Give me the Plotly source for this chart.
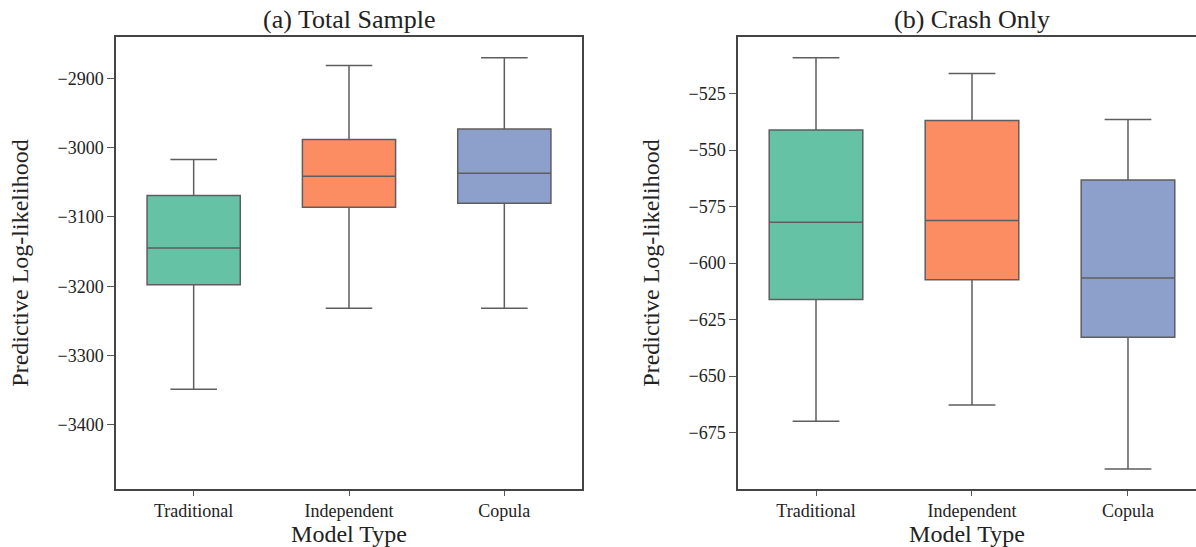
import plotly.graph_objects as go

categories = ["Traditional", "Independent", "Copula"]
colors = ["#66c2a5", "#fc8d62", "#8da0cb"]

# (a) Total Sample
a_lower = [-3349, -3232, -3232]
a_q1 = [-3198, -3086, -3080]
a_median = [-3145, -3041, -3037]
a_q3 = [-3069, -2988, -2973]
a_upper = [-3017, -2881, -2870]

# (b) Crash Only
b_lower = [-670.0, -662.8, -691.1]
b_q1 = [-616.2, -607.4, -632.9]
b_median = [-582.0, -581.2, -606.6]
b_q3 = [-541.1, -536.9, -563.3]
b_upper = [-509.2, -516.1, -536.5]

a_ticks = [-3400, -3300, -3200, -3100, -3000, -2900]
b_ticks = [-675, -650, -625, -600, -575, -550, -525]

W, H = 1196, 547
FONT = "Liberation Serif, Times New Roman, serif"
LINE = "#5e5e5e"
TXT = "#222222"

fig = go.Figure()

def add_boxes(lower, q1, med, q3, upper, xa, ya):
    for i, cat in enumerate(categories):
        fig.add_trace(go.Box(
            x=[cat], lowerfence=[lower[i]], q1=[q1[i]], median=[med[i]],
            q3=[q3[i]], upperfence=[upper[i]],
            fillcolor=colors[i], line=dict(color=LINE, width=1.5),
            width=0.6, whiskerwidth=0.5, boxpoints=False,
            showlegend=False, xaxis=xa, yaxis=ya, hoverinfo="skip",
        ))

add_boxes(a_lower, a_q1, a_median, a_q3, a_upper, "x", "y")
add_boxes(b_lower, b_q1, b_median, b_q3, b_upper, "x2", "y2")

ybot = 1 - 489 / H
ytop = 1 - 37 / H

axis_common = dict(
    showline=True, linecolor="#444444", linewidth=1.5,
    ticks="outside", ticklen=7, tickwidth=1.2, tickcolor="#555555",
    showgrid=False, zeroline=False,
    tickfont=dict(family=FONT, size=18, color=TXT),
)

x_extra = dict(tickfont=dict(family=FONT, size=18, color=TXT), ticklen=5)

fig.update_layout(
    width=W, height=H,
    margin=dict(l=0, r=0, t=0, b=0),
    paper_bgcolor="white", plot_bgcolor="white",
    font=dict(family=FONT, color=TXT),
    boxmode="overlay",
    xaxis=dict(domain=[116 / W, 582 / W], anchor="y", type="category",
               categoryorder="array", categoryarray=categories,
               range=[-0.5, 2.5], mirror=True,
               title=dict(text="Model Type", font=dict(family=FONT, size=24, color=TXT), standoff=0),
               **{**axis_common, **x_extra}),
    yaxis=dict(domain=[ybot, ytop], anchor="x", range=[-3493, -2840],
               tickvals=a_ticks, mirror=True,
               title=dict(text="Predictive Log-likelihood", font=dict(family=FONT, size=24, color=TXT), standoff=22),
               **axis_common),
    xaxis2=dict(domain=[738 / W, 1.0], anchor="y2", type="category",
                categoryorder="array", categoryarray=categories,
                range=[-0.5, 2.436], mirror=True,
                title=dict(text="Model Type", font=dict(family=FONT, size=24, color=TXT), standoff=0),
                **{**axis_common, **x_extra}),
    yaxis2=dict(domain=[ybot, ytop], anchor="x2", range=[-700, -500],
                tickvals=b_ticks, mirror=False,
                title=dict(text="Predictive Log-likelihood", font=dict(family=FONT, size=24, color=TXT), standoff=22),
                **axis_common),
    annotations=[
        dict(text="(a) Total Sample", x=(116 + 582) / 2 / W, y=ytop, xref="paper", yref="paper",
             xanchor="center", yanchor="bottom", showarrow=False, yshift=1,
             font=dict(family=FONT, size=26, color=TXT)),
        dict(text="(b) Crash Only", x=(738 + 1206) / 2 / W, y=ytop, xref="paper", yref="paper",
             xanchor="center", yanchor="bottom", showarrow=False, yshift=1,
             font=dict(family=FONT, size=26, color=TXT)),
    ],
)

fig.write_html("out.html")
